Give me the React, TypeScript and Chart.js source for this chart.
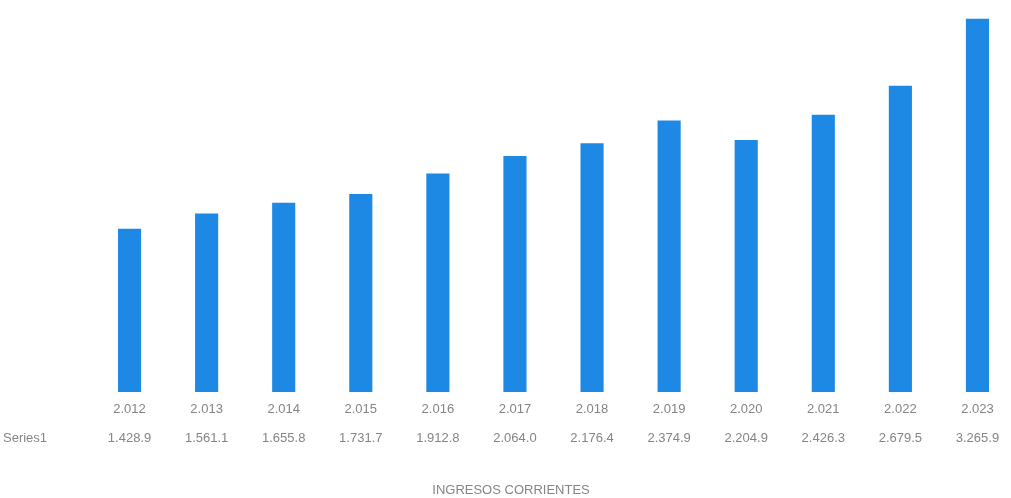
import React, { useEffect, useRef } from "react";
import { Chart, registerables } from "chart.js";

Chart.register(...registerables);

const categories = ["2.012", "2.013", "2.014", "2.015", "2.016", "2.017", "2.018", "2.019", "2.020", "2.021", "2.022", "2.023"];
const series1 = [1428.9, 1561.1, 1655.8, 1731.7, 1912.8, 2064.0, 2176.4, 2374.9, 2204.9, 2426.3, 2679.5, 3265.9];
const seriesName = "Series1";
const axisTitle = "INGRESOS CORRIENTES";

function fmt(v: number): string {
  const s = v.toFixed(1);
  const [intPart, dec] = s.split(".");
  const withSep = intPart.replace(/\B(?=(\d{3})+(?!\d))/g, ".");
  return withSep + "." + dec;
}

const tablePlugin = {
  id: "dataTable",
  afterDraw(chart: any) {
    const ctx = chart.ctx;
    const x = chart.scales.x;
    ctx.save();
    ctx.fillStyle = "#858585";
    ctx.textBaseline = "middle";
    ctx.textAlign = "center";
    categories.forEach((c, i) => {
      const px = x.getPixelForValue(i);
      ctx.font = "13px 'Liberation Sans', Arial, sans-serif";
      ctx.fillText(c, px, 409);
      ctx.font = "13px 'Liberation Sans', Arial, sans-serif";
      ctx.fillText(fmt(series1[i]), px, 438);
    });
    ctx.textAlign = "left";
    ctx.fillText(seriesName, 3, 438);
    ctx.textAlign = "center";
    ctx.font = "13px 'Liberation Sans', Arial, sans-serif";
    ctx.fillText(axisTitle, 511, 490);
    ctx.restore();
  },
};

export default function App() {
  const ref = useRef<HTMLCanvasElement | null>(null);
  useEffect(() => {
    if (!ref.current) return;
    const chart = new Chart(ref.current, {
      type: "bar",
      data: {
        labels: categories,
        datasets: [
          {
            label: seriesName,
            data: series1,
            backgroundColor: "#1E88E5",
            categoryPercentage: 1,
            barPercentage: 0.3,
          },
        ],
      },
      options: {
        animation: false,
        responsive: false,
        maintainAspectRatio: false,
        layout: { padding: { left: 91, right: 1, top: 0, bottom: 106 } },
        plugins: { legend: { display: false }, tooltip: { enabled: false } },
        scales: {
          x: { display: false },
          y: { display: false, min: 0, max: 3430 },
        },
      },
      plugins: [tablePlugin],
    });
    return () => chart.destroy();
  }, []);
  return (
    <div style={{ position: "fixed", left: 0, top: 0, width: 1011, height: 498, overflow: "hidden", background: "#fff" }}>
      <canvas ref={ref} width={1017} height={498} style={{ display: "block" }} />
    </div>
  );
}
